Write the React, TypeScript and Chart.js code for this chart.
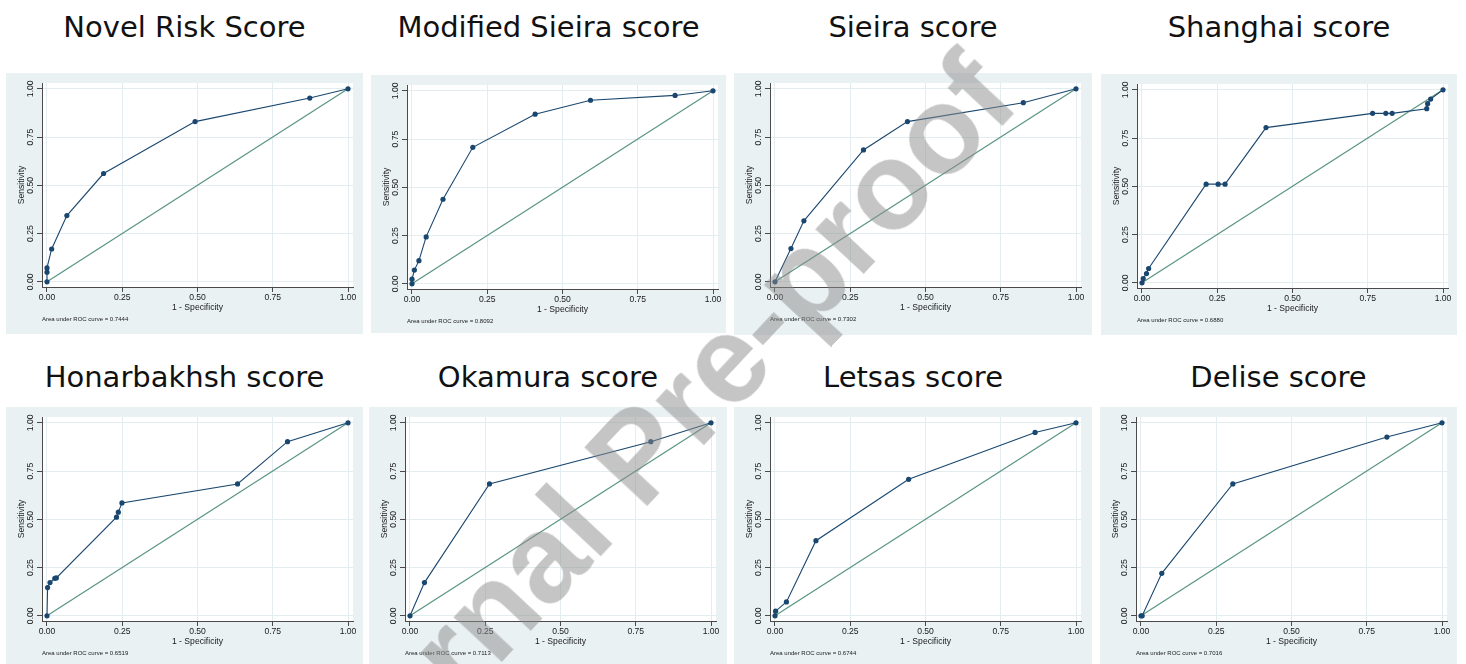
import React, { useEffect, useRef } from "react";
import { Chart, registerables } from "chart.js";

Chart.register(...registerables);

// ---------- data ----------
const TICKS = [0, 0.25, 0.5, 0.75, 1];
const REF_X = [0, 1];
const REF_Y = [0, 1];

const TITLES = [
  "Novel Risk Score",
  "Modified Sieira score",
  "Sieira score",
  "Shanghai score",
  "Honarbakhsh score",
  "Okamura score",
  "Letsas score",
  "Delise score",
];

const AUC = ["0.7444", "0.8092", "0.7302", "0.6880", "0.6519", "0.7113", "0.6744", "0.7016"];

const novelFpr = [0, 0, 0, 0.0155, 0.066, 0.188, 0.492, 0.873, 1];
const novelSens = [0, 0.05, 0.072, 0.17, 0.343, 0.561, 0.83, 0.952, 1];

const modSieiraFpr = [0, 0, 0.008, 0.023, 0.047, 0.103, 0.202, 0.409, 0.593, 0.874, 1];
const modSieiraSens = [0, 0.024, 0.071, 0.12, 0.243, 0.438, 0.707, 0.879, 0.951, 0.976, 1];

const sieiraFpr = [0, 0.053, 0.096, 0.294, 0.44, 0.825, 1];
const sieiraSens = [0, 0.172, 0.316, 0.683, 0.83, 0.928, 1];

const shanghaiFpr = [0, 0.004, 0.015, 0.022, 0.213, 0.253, 0.276, 0.412, 0.766, 0.81, 0.831, 0.946, 0.949, 0.959, 1];
const shanghaiSens = [0, 0.022, 0.048, 0.074, 0.511, 0.511, 0.511, 0.804, 0.878, 0.878, 0.878, 0.902, 0.928, 0.952, 1];

const honarFpr = [0, 0.002, 0.01, 0.026, 0.031, 0.231, 0.237, 0.249, 0.633, 0.799, 1];
const honarSens = [0, 0.146, 0.172, 0.194, 0.196, 0.511, 0.537, 0.585, 0.683, 0.902, 1];

const okamuraFpr = [0, 0.048, 0.264, 0.8, 1];
const okamuraSens = [0, 0.172, 0.683, 0.902, 1];

const letsasFpr = [0, 0.002, 0.038, 0.136, 0.444, 0.864, 1];
const letsasSens = [0, 0.024, 0.072, 0.389, 0.707, 0.95, 1];

const deliseFpr = [0, 0.004, 0.069, 0.305, 0.817, 1];
const deliseSens = [0, 0, 0.22, 0.683, 0.926, 1];

const FPRS = [novelFpr, modSieiraFpr, sieiraFpr, shanghaiFpr, honarFpr, okamuraFpr, letsasFpr, deliseFpr];
const SENS = [novelSens, modSieiraSens, sieiraSens, shanghaiSens, honarSens, okamuraSens, letsasSens, deliseSens];

// ---------- layout / style ----------
const BOXES = [
  { left: 6, top: 73, w: 357, h: 261 },
  { left: 371, top: 75, w: 355, h: 258 },
  { left: 734, top: 73, w: 358, h: 262 },
  { left: 1101, top: 74, w: 356, h: 261 },
  { left: 6, top: 407, w: 357, h: 261 },
  { left: 369, top: 407, w: 358, h: 261 },
  { left: 734, top: 407, w: 358, h: 261 },
  { left: 1100, top: 407, w: 357, h: 261 },
];
const TITLE_BASELINES = [37.3, 37.3, 37.3, 37.3, 387.7, 387.7, 387.7, 387.7];

const NAVY = "#1A476F";
const GREEN = "#5A9482";
const BG = "#E9F1F3";
const GRID = "#E3ECEF";
const AXIS = "#4A4A4A";
const TXT = "#1A1A1A";
const FONT_FAMILY = "'Liberation Sans', Arial, sans-serif";
const TICK_FONT = { family: FONT_FAMILY, size: 8.6 };

const bgPlugin = {
  id: "stataBg",
  beforeDraw(chart: any) {
    const { ctx, width, height, chartArea } = chart;
    ctx.save();
    ctx.fillStyle = BG;
    ctx.fillRect(0, 0, width, height);
    ctx.fillStyle = "#FFFFFF";
    ctx.fillRect(chartArea.left, chartArea.top, chartArea.right - chartArea.left, chartArea.bottom - chartArea.top);
    ctx.restore();
  },
};

function RocPanel({ index }: { index: number }) {
  const ref = useRef<HTMLCanvasElement | null>(null);
  const box = BOXES[index];

  useEffect(() => {
    if (!ref.current) return;
    const fpr = FPRS[index];
    const sens = SENS[index];
    const chart = new Chart(ref.current, {
      type: "scatter",
      data: {
        datasets: [
          {
            data: fpr.map((x, i) => ({ x, y: sens[i] })),
            showLine: true,
            borderColor: NAVY,
            borderWidth: 1.1,
            pointRadius: 2.6,
            pointHoverRadius: 2.6,
            pointBackgroundColor: NAVY,
            pointBorderWidth: 0,
            order: 0,
          },
          {
            data: REF_X.map((x, i) => ({ x, y: REF_Y[i] })),
            showLine: true,
            borderColor: GREEN,
            borderWidth: 1.2,
            pointRadius: 0,
            pointHoverRadius: 0,
            order: 1,
          },
        ],
      },
      options: {
        animation: false,
        responsive: false,
        maintainAspectRatio: false,
        events: [],
        layout: { padding: { top: 10, right: box.w - 347, left: 0, bottom: 0 } },
        plugins: {
          legend: { display: false },
          tooltip: { enabled: false },
          subtitle: {
            display: true,
            text: "Area under ROC curve = " + AUC[index],
            position: "bottom",
            align: "start",
            fullSize: false,
            color: TXT,
            font: { family: FONT_FAMILY, size: 6 },
            padding: { top: 1.4, bottom: 11.4 + (box.h - 261) },
          },
        },
        scales: {
          x: {
            type: "linear",
            min: -0.0166,
            max: 1.0166,
            afterBuildTicks: (s: any) => {
              s.ticks = TICKS.map((v) => ({ value: v }));
            },
            afterFit: (s: any) => {
              s.height = 27;
            },
            ticks: {
              autoSkip: false,
              maxRotation: 0,
              minRotation: 0,
              padding: 0.84,
              color: TXT,
              font: TICK_FONT,
              callback: (v: any) => Number(v).toFixed(2),
            },
            grid: { color: GRID, tickColor: AXIS, tickLength: 5, drawTicks: true, lineWidth: 1 },
            border: { display: true, color: AXIS, width: 1 },
            title: {
              display: true,
              text: "1 - Specificity",
              color: TXT,
              font: TICK_FONT,
              padding: { top: 0, bottom: 0.84 },
            },
          },
          y: {
            type: "linear",
            min: -0.027,
            max: 1.03,
            afterBuildTicks: (s: any) => {
              s.ticks = TICKS.map((v) => ({ value: v }));
            },
            afterFit: (s: any) => {
              s.width = 36;
            },
            ticks: {
              autoSkip: false,
              minRotation: 90,
              maxRotation: 90,
              crossAlign: "center",
              padding: -2.4,
              color: TXT,
              font: TICK_FONT,
              callback: (v: any) => Number(v).toFixed(2),
            },
            grid: { color: GRID, tickColor: AXIS, tickLength: 5, drawTicks: true, lineWidth: 1 },
            border: { display: true, color: AXIS, width: 1 },
            title: {
              display: true,
              text: "Sensitivity",
              color: TXT,
              font: TICK_FONT,
              padding: { top: 10.5, bottom: 0 },
            },
          },
        },
      } as any,
      plugins: [bgPlugin],
    });
    return () => chart.destroy();
  }, [index]);

  return (
    <>
      <div
        style={{
          position: "absolute",
          left: box.left,
          width: box.w,
          top: TITLE_BASELINES[index] - 24.5,
          textAlign: "center",
          fontFamily: "'DejaVu Sans', sans-serif",
          fontSize: 29,
          lineHeight: "29px",
          color: "#111",
          whiteSpace: "nowrap",
        }}
      >
        {TITLES[index]}
      </div>
      <div style={{ position: "absolute", left: box.left, top: box.top, width: box.w, height: box.h }}>
        <canvas ref={ref} width={box.w} height={box.h} style={{ display: "block", width: box.w, height: box.h }} />
      </div>
    </>
  );
}

export default function App() {
  return (
    <div
      style={{
        position: "fixed",
        left: 0,
        top: 0,
        width: 1466,
        height: 664,
        overflow: "hidden",
        background: "#FFFFFF",
      }}
    >
      {TITLES.map((_, i) => (
        <RocPanel key={i} index={i} />
      ))}
      <div
        style={{
          position: "absolute",
          left: 636,
          top: 455,
          transform: "translate(-50%, -50%) rotate(-47deg)",
          fontFamily: "'Liberation Sans', Arial, sans-serif",
          fontWeight: "bold",
          fontSize: 124,
          lineHeight: "124px",
          color: "rgba(140,140,140,0.5)",
          whiteSpace: "nowrap",
          pointerEvents: "none",
        }}
      >
        Journal Pre-proof
      </div>
    </div>
  );
}
